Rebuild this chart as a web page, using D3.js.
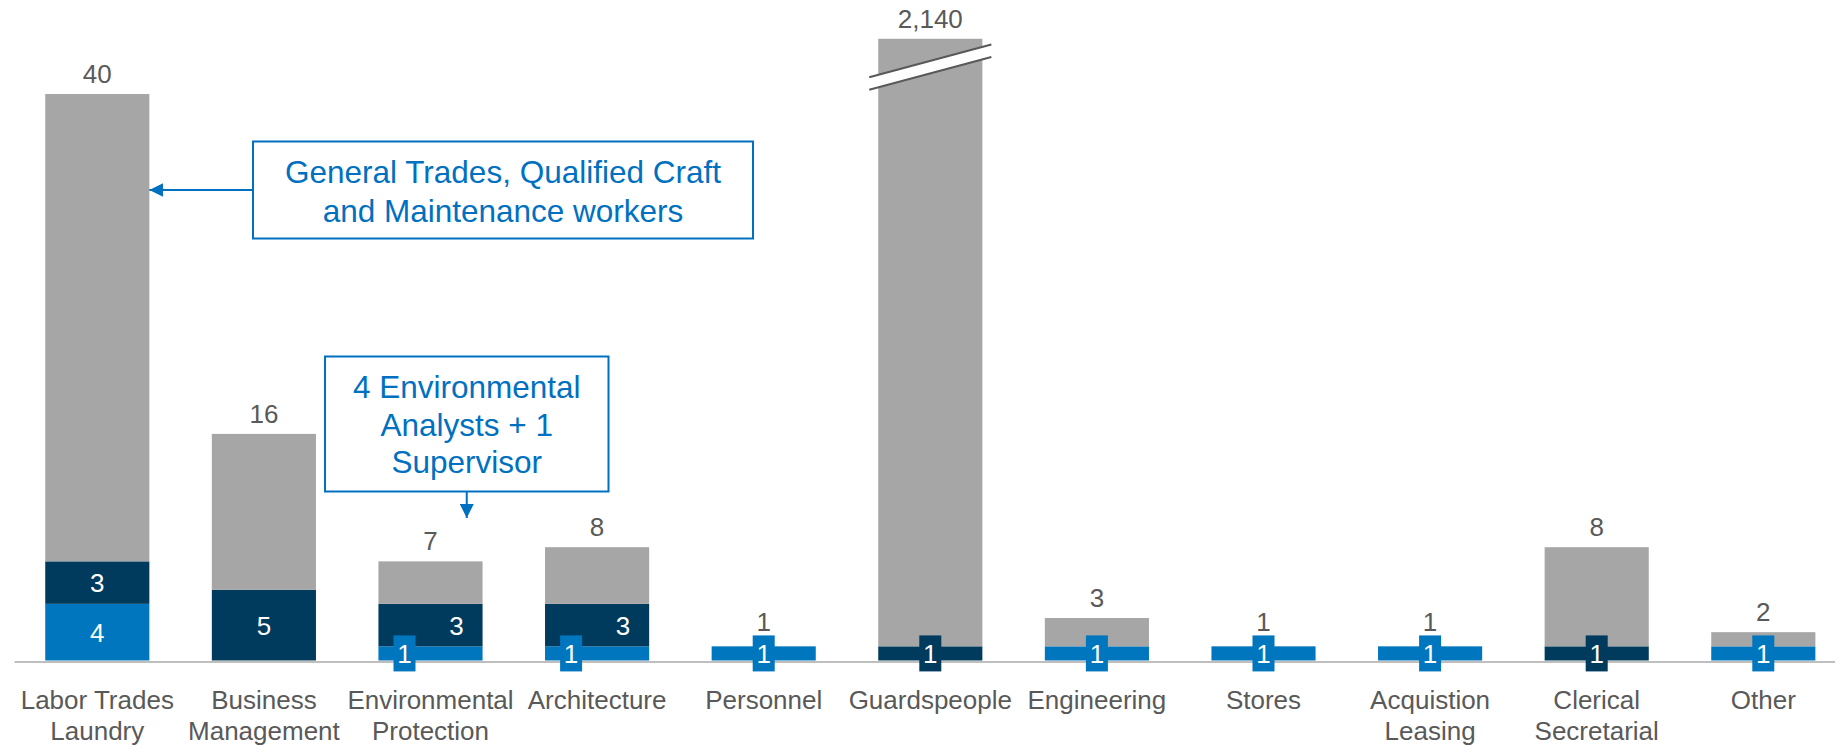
<!DOCTYPE html>
<html>
<head>
<meta charset="utf-8">
<script src="https://cdn.jsdelivr.net/npm/d3@7"></script>
<style>
  body { margin: 0; background: #fff; }
  svg { display: block; font-family: "Liberation Sans", Arial, sans-serif; }
</style>
</head>
<body>
<div id="chart"></div>
<script>
// categories (line breaks as in the original labels)
const categories = [
  'Labor Trades\nLaundry', 'Business\nManagement', 'Environmental\nProtection', 'Architecture',
  'Personnel', 'Guardspeople', 'Engineering', 'Stores',
  'Acquistion\nLeasing', 'Clerical\nSecretarial', 'Other'
];
const lightBlue = [4, 0, 1, 1, 1, 0, 1, 1, 1, 0, 1];
const darkBlue  = [3, 5, 3, 3, 0, 1, 0, 0, 0, 1, 0];
const totals    = [40, 16, 7, 8, 1, 2140, 3, 1, 1, 8, 2];

// the Guardspeople bar is cut by an axis break and drawn only up to this value
const brokenCategory = 'Guardspeople';
const brokenDrawnAt = 43.9;
const breakValue = 41.9;
// bars where the "1" badge and the dark label sit side by side
const sideBySide = ['Environmental\nProtection', 'Architecture'];

const notes = [
  { lines: ['General Trades, Qualified Craft', 'and Maintenance workers'] },
  { lines: ['4 Environmental', 'Analysts + 1', 'Supervisor'] }
];

const colors = { light: '#0076BE', dark: '#003A5D', gray: '#A6A6A6' };
const textGray = '#595959';
const noteBlue = '#0070C0';

const width = 1835, height = 749;
const baseline = 660.5;

const rows = categories.map((c, i) => {
  const drawn = c.startsWith(brokenCategory) ? brokenDrawnAt : totals[i];
  return { cat: c, total: totals[i], light: lightBlue[i], dark: darkBlue[i],
           gray: drawn - lightBlue[i] - darkBlue[i] };
});

const x = d3.scaleBand()
  .domain(categories)
  .range([14, 1846.6])
  .paddingInner(0.375)
  .paddingOuter(0.1875);

const y = d3.scaleLinear()
  .domain([0, 40])
  .range([baseline, 94]);

const svg = d3.select('#chart')
  .append('svg')
  .attr('width', width)
  .attr('height', height);

const stack = d3.stack().keys(['light', 'dark', 'gray']);
const series = stack(rows);

// bars
svg.append('g')
  .selectAll('g')
  .data(series)
  .join('g')
  .attr('fill', s => colors[s.key])
  .selectAll('rect')
  .data(s => s.filter(d => d[1] > d[0]))
  .join('rect')
  .attr('x', d => x(d.data.cat))
  .attr('y', d => y(d[1]))
  .attr('width', x.bandwidth())
  .attr('height', d => y(d[0]) - y(d[1]));

// axis break on the tall bar
const bx = x(categories.find(c => c.startsWith(brokenCategory)));
const bx0 = bx - 9, bx1 = bx + x.bandwidth() + 9, bxc = bx + x.bandwidth() / 2;
const yc = y(breakValue), gap = 6.25, slope = 32.7 / 122;
const lineY = (px, off) => yc + off - slope * (px - bxc);
svg.append('polygon')
  .attr('fill', '#fff')
  .attr('points', [
    [bx0, lineY(bx0, -gap)], [bx1, lineY(bx1, -gap)],
    [bx1, lineY(bx1, gap)], [bx0, lineY(bx0, gap)]
  ].map(p => p.join(',')).join(' '));
[-gap, gap].forEach(off => {
  svg.append('line')
    .attr('x1', bx0).attr('y1', lineY(bx0, off))
    .attr('x2', bx1).attr('y2', lineY(bx1, off))
    .attr('stroke', textGray)
    .attr('stroke-width', 2);
});

// axis
const axis = svg.append('g')
  .attr('transform', `translate(0, ${baseline + 1})`)
  .call(d3.axisBottom(x).tickSize(0).tickSizeOuter(0));
axis.select('.domain').attr('stroke', '#BFBFBF').attr('stroke-width', 2);
axis.selectAll('.tick text').each(function (d) {
  const t = d3.select(this);
  t.text(null)
    .attr('y', 0).attr('dy', null)
    .attr('fill', textGray)
    .attr('font-size', 26)
    .attr('font-family', '"Liberation Sans", Arial, sans-serif');
  d.split('\n').forEach((ln, k) => {
    t.append('tspan').attr('x', 0).attr('y', 47 + k * 31.7).text(ln);
  });
});

// segment labels
const segLabels = [];
series.filter(s => s.key !== 'gray').forEach(s => {
  s.forEach(d => {
    const v = d[1] - d[0];
    if (v <= 0) return;
    const side = sideBySide.includes(d.data.cat);
    segLabels.push({
      cat: d.data.cat, v, key: s.key,
      cx: x(d.data.cat) + x.bandwidth() / 2 + (side ? (v === 1 ? -26 : 26) : 0),
      cy: (y(d[0]) + y(d[1])) / 2
    });
  });
});

const badges = segLabels.filter(d => d.v === 1);
svg.append('g')
  .selectAll('rect')
  .data(badges)
  .join('rect')
  .attr('x', d => d.cx - 11)
  .attr('y', d => d.cy - 18)
  .attr('width', 22)
  .attr('height', 36)
  .attr('fill', d => colors[d.key]);

svg.append('g')
  .selectAll('text')
  .data(segLabels)
  .join('text')
  .attr('x', d => d.cx)
  .attr('y', d => d.cy + 9.5)
  .attr('text-anchor', 'middle')
  .attr('fill', '#fff')
  .attr('font-size', 26)
  .text(d => d.v);

// totals
svg.append('g')
  .selectAll('text')
  .data(rows)
  .join('text')
  .attr('x', d => x(d.cat) + x.bandwidth() / 2)
  .attr('y', d => {
    const top = y(d.light + d.dark + d.gray) - 11;
    const badge = badges.find(b => b.cat === d.cat);
    return badge ? Math.min(top, badge.cy - 22) : top;
  })
  .attr('text-anchor', 'middle')
  .attr('fill', textGray)
  .attr('font-size', 26)
  .text(d => d3.format(',')(d.total));

// callouts
const defs = svg.append('defs');
defs.append('marker')
  .attr('id', 'head')
  .attr('viewBox', '0 0 10 10')
  .attr('refX', 10).attr('refY', 5)
  .attr('markerWidth', 7).attr('markerHeight', 7)
  .attr('markerUnits', 'strokeWidth')
  .attr('orient', 'auto')
  .append('path')
  .attr('d', 'M0,0 L10,5 L0,10 z')
  .attr('fill', noteBlue);

const boxes = [
  { x0: 253, y0: 141.5, x1: 753, y1: 238.5, base: 183.3, lh: 38.4, note: notes[0] },
  { x0: 325, y0: 356.5, x1: 608.5, y1: 491.5, base: 398.3, lh: 37.5, note: notes[1] }
];
boxes.forEach(b => {
  svg.append('rect')
    .attr('x', b.x0).attr('y', b.y0)
    .attr('width', b.x1 - b.x0).attr('height', b.y1 - b.y0)
    .attr('fill', '#fff')
    .attr('stroke', noteBlue)
    .attr('stroke-width', 2);
  const t = svg.append('text')
    .attr('text-anchor', 'middle')
    .attr('fill', noteBlue)
    .attr('font-size', 31.5);
  b.note.lines.forEach((ln, k) => {
    t.append('tspan')
      .attr('x', (b.x0 + b.x1) / 2)
      .attr('y', b.base + k * b.lh)
      .text(ln);
  });
});

// arrow to Labor Trades bar
svg.append('line')
  .attr('x1', boxes[0].x0).attr('y1', 190)
  .attr('x2', x(categories[0]) + x.bandwidth()).attr('y2', 190)
  .attr('stroke', noteBlue).attr('stroke-width', 2)
  .attr('marker-end', 'url(#head)');

// arrow down from the environmental note
svg.append('line')
  .attr('x1', (boxes[1].x0 + boxes[1].x1) / 2).attr('y1', boxes[1].y1)
  .attr('x2', (boxes[1].x0 + boxes[1].x1) / 2).attr('y2', 518)
  .attr('stroke', noteBlue).attr('stroke-width', 2)
  .attr('marker-end', 'url(#head)');
</script>
</body>
</html>
